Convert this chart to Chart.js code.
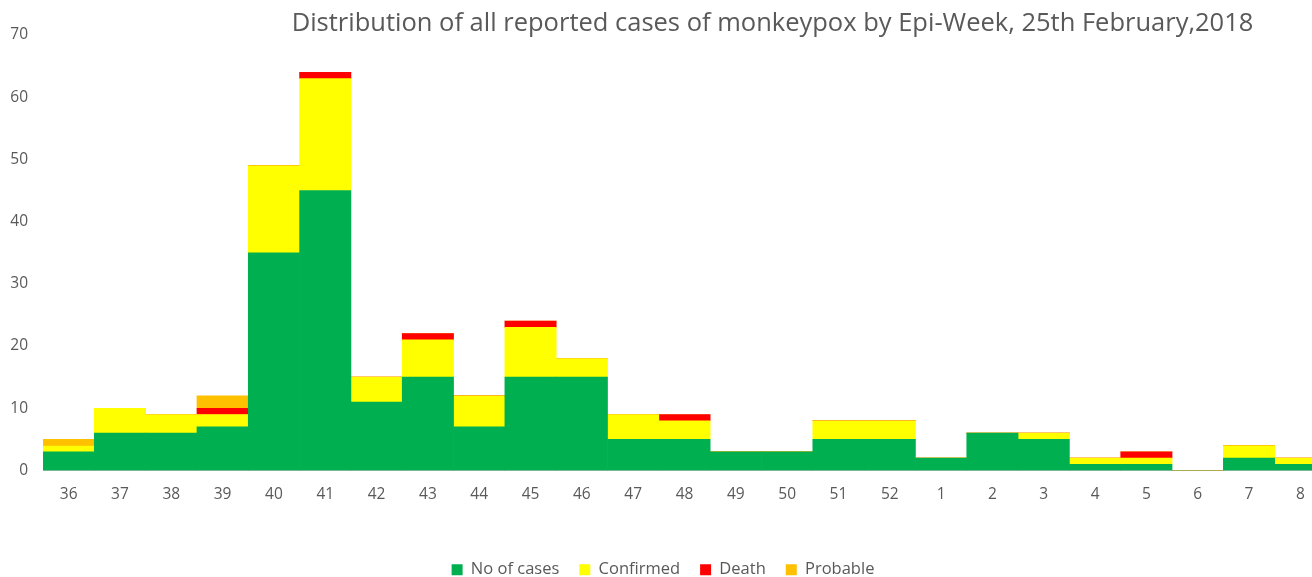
<!DOCTYPE html>
<html>
<head>
<meta charset="utf-8">
<script src="https://cdn.jsdelivr.net/npm/chart.js@4.4.0/dist/chart.umd.min.js"></script>
<style>
  html, body { margin: 0; padding: 0; background: #fff; overflow: hidden; }
  #wrap { position: relative; width: 1312px; height: 577px; overflow: hidden; }
  #title { position: absolute; left: 0; top: 4px; width: 1545px; text-align: center;
           font-family: "Open Sans", sans-serif; font-size: 25.5px; color: #595959; white-space: nowrap; }
</style>
</head>
<body>
<div id="wrap">
  <canvas id="c" width="1326" height="588"></canvas>
  <div id="title">Distribution of all reported cases of monkeypox by Epi-Week, 25th February,2018</div>
</div>
<script>
const weeks = ['36','37','38','39','40','41','42','43','44','45','46','47','48','49','50','51','52','1','2','3','4','5','6','7','8'];
const noOfCases = [3, 6, 6, 7, 35, 45, 11, 15, 7, 15, 15, 5, 5, 3, 3, 5, 5, 2, 6, 5, 1, 1, 0, 2, 1];
const confirmed = [1, 4, 3, 2, 14, 18, 4, 6, 5, 8, 3, 4, 3, 0, 0, 3, 3, 0, 0, 1, 1, 1, 0, 2, 1];
const death     = [0, 0, 0, 1, 0, 1, 0, 1, 0, 1, 0, 0, 1, 0, 0, 0, 0, 0, 0, 0, 0, 1, 0, 0, 0];
const probable  = [1, 0, 0, 2, 0, 0, 0, 0, 0, 0, 0, 0, 0, 0, 0, 0, 0, 0, 0, 0, 0, 0, 0, 0, 0];
const yTicks = [0, 10, 20, 30, 40, 50, 60, 70];

const ds = (label, data, color) => ({
  label, data, backgroundColor: color, borderWidth: 0,
  barPercentage: 1.0, categoryPercentage: 1.0
});

new Chart(document.getElementById('c'), {
  type: 'bar',
  data: {
    labels: weeks,
    datasets: [
      ds('No of cases', noOfCases, '#00B050'),
      ds('Confirmed', confirmed, '#FFFF00'),
      ds('Death', death, '#FF0000'),
      ds('Probable', probable, '#FFC000')
    ]
  },
  options: {
    responsive: false,
    animation: false,
    layout: { padding: { top: 35, right: 0, left: 0, bottom: 0 } },
    plugins: {
      legend: {
        position: 'bottom',
        labels: {
          boxWidth: 11, boxHeight: 11, padding: 20,
          color: '#595959',
          font: { family: '"Open Sans", sans-serif', size: 16.5 }
        }
      },
      tooltip: { enabled: false },
      title: { display: false }
    },
    scales: {
      x: {
        stacked: true,
        grid: { display: false, drawTicks: false },
        border: { display: true, color: '#BFBFBF', width: 1 },
        ticks: { color: '#595959', padding: 15, maxRotation: 0, autoSkip: false,
                 font: { family: '"Open Sans", sans-serif', size: 15.5 } },
        afterFit: (s) => { s.height = 71; }
      },
      y: {
        stacked: true,
        min: 0, max: 70,
        afterBuildTicks: (s) => { s.ticks = yTicks.map(v => ({ value: v })); },
        grid: { display: false, drawTicks: false },
        border: { display: false },
        ticks: { color: '#595959', padding: 15,
                 font: { family: '"Open Sans", sans-serif', size: 15.5 } },
        afterFit: (s) => { s.width = 43; }
      }
    }
  }
});
</script>
</body>
</html>
